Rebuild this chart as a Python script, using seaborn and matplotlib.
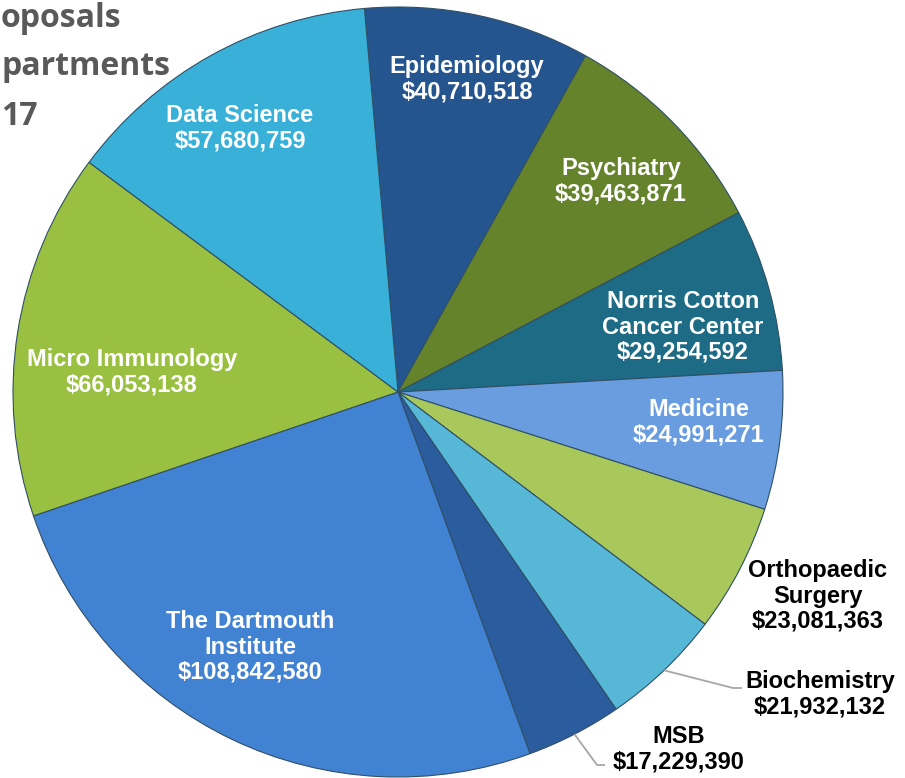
import numpy as np
import matplotlib
matplotlib.use("Agg")
import matplotlib.pyplot as plt
import seaborn as sns

# ---- data (clockwise from top) ----
departments = ["Epidemiology", "Psychiatry", "Norris Cotton\nCancer Center", "Medicine",
               "Orthopaedic\nSurgery", "Biochemistry", "MSB", "The Dartmouth\nInstitute",
               "Micro Immunology", "Data Science"]
amounts = [40710518, 39463871, 29254592, 24991271, 23081363, 21932132, 17229390,
           108842580, 66053138, 57680759]
title_fragments = ["oposals", "partments", "17"]

colors = ["#24558f", "#64832a", "#1d6b85", "#6a9de0", "#a8c85c", "#56b8d6",
          "#2b5c9e", "#4282d2", "#99c040", "#38b0d8"]

sns.set_theme(style="white")
plt.rcParams["font.family"] = ["Liberation Sans", "DejaVu Sans"]

W, H = 905, 778
fig = plt.figure(figsize=(W / 100, H / 100), dpi=100)
ax = fig.add_axes([0, 0, 1, 1])
ax.set_xlim(0, W)
ax.set_ylim(0, H)
ax.set_aspect("equal")
ax.axis("off")

cx, cy, R = 398, H - 392, 385
wedges, _ = ax.pie(amounts, colors=colors, startangle=95, counterclock=False,
                   center=(cx, cy), radius=R, frame=True,
                   wedgeprops=dict(edgecolor="#2f4f66", linewidth=0.8))
ax.set_xlim(0, W)
ax.set_ylim(0, H)
ax.axis("off")

# label positions (pixel, from top) and colours
label_pos = {
    "Epidemiology": (467, 79, "white"),
    "Psychiatry": (621, 181, "white"),
    "Norris Cotton\nCancer Center": (683, 327, "white"),
    "Medicine": (699, 422, "white"),
    "Orthopaedic\nSurgery": (818, 596, "black"),
    "Biochemistry": (820, 694, "black"),
    "MSB": (679, 749, "black"),
    "The Dartmouth\nInstitute": (250, 647, "white"),
    "Micro Immunology": (132, 372, "white"),
    "Data Science": (240, 128, "white"),
}
for name, val in zip(departments, amounts):
    x, y, c = label_pos[name]
    ax.text(x, H - y, f"{name}\n${val:,}", ha="center", va="center", color=c,
            fontsize=17, fontweight="bold", linespacing=1.12)

# leader lines for Biochemistry and MSB
leaders = {"Biochemistry": [(733, 688), (742, 688)], "MSB": [(597, 765), (605, 765)]}
for w, name in zip(wedges, departments):
    if name in leaders:
        th = np.deg2rad((w.theta1 + w.theta2) / 2)
        sx, sy = cx + R * np.cos(th), cy + R * np.sin(th)
        pts = [(sx, sy)] + [(px, H - py) for px, py in leaders[name]]
        xs, ys = zip(*pts)
        ax.plot(xs, ys, color="#a6a6a6", lw=1.3, solid_capstyle="butt")

# partially visible title at top-left
for txt, yb in zip(title_fragments, [27, 75, 125]):
    ax.text(1, H - yb, txt, ha="left", va="baseline", color="#595959",
            fontsize=23, fontweight="bold", family=["Open Sans", "DejaVu Sans"])

fig.savefig("out.png", dpi=100)
